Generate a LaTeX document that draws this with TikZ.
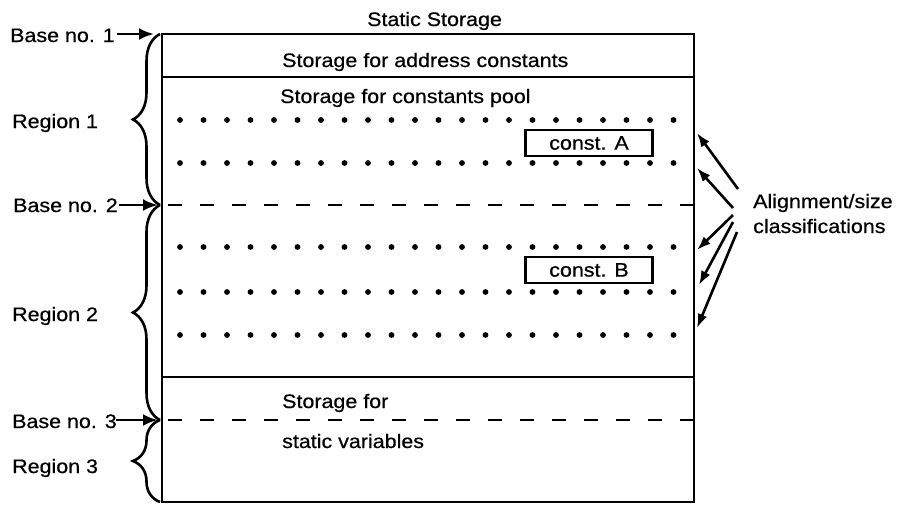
\documentclass[tikz,border=0pt]{standalone}
\usepackage{fontspec}
\setmainfont[FakeStretch=1.1,FakeBold=0.6]{Liberation Sans}
\usetikzlibrary{arrows.meta,decorations.pathreplacing}
\begin{document}
\begin{tikzpicture}[x=1pt,y=-1pt,
  lbl/.style={font=\fontsize{19.5}{22}\selectfont, inner sep=0pt, anchor=base west},
  frame/.style={line width=2.4pt},
  dashline/.style={line width=2.6pt, dash pattern=on 14pt off 18pt},
  bigarrow/.style={line width=2.8pt,-{Latex[length=15pt,width=12pt]}},
  smallarrow/.style={line width=2.6pt,-{Latex[length=14pt,width=10pt]}},
  brc/.style={line width=2.6pt, decorate, decoration={brace,amplitude=27pt}},
  constbox/.style={draw, line width=2.2pt, minimum width=127pt, minimum height=26pt, inner sep=0pt, font=\fontsize{19.5}{22}\selectfont, fill=white}]
\useasboundingbox (0,0) rectangle (903,504);

% main frame
\draw[frame] (162,34) rectangle (694,502);
\draw[frame] (162,77) -- (694,77);
\draw[frame] (162,377) -- (694,377);
\draw[dashline] (168,205) -- (694,205);
\draw[dashline] (168,420) -- (694,420);

% dots
\foreach \y in {120,163,247,292,335}
  \foreach \i in {0,...,21}
    \fill (180+23.5*\i,\y) circle (2.9pt);

% texts
\node[lbl] (title) at (367,26) {Static Storage};
\node[lbl] (addr) at (282,67) {Storage for address constants};
\node[lbl] (pool) at (280,103) {Storage for constants pool};
\node[lbl] (sf1) at (282,408) {Storage for};
\node[lbl] (sf2) at (282,448) {static variables};

\node[constbox] (ca) at (589,143) {const. A};
\node[constbox] (cb) at (589,270) {const. B};

% left labels
\node[lbl] (b1) at (10,42) {Base no. 1};
\node[lbl] (b2) at (13,212) {Base no. 2};
\node[lbl] (b3) at (12,428) {Base no. 3};
\node[lbl] (r1) at (12,128) {Region 1};
\node[lbl] (r2) at (12,321) {Region 2};
\node[lbl] (r3) at (12,473) {Region 3};

\coordinate (p1) at (160,34);
\coordinate (p2) at (160,205);
\coordinate (p3) at (160,420);
\coordinate (p4) at (160,502);

\coordinate (a1s) at (117,34);
\coordinate (a1e) at (154,34);
\coordinate (a2s) at (119,205);
\coordinate (a2e) at (158,205);
\coordinate (a3s) at (116,420);
\coordinate (a3e) at (158,420);
\draw[bigarrow] (a1s) -- (a1e);
\draw[bigarrow] (a2s) -- (a2e);
\draw[bigarrow] (a3s) -- (a3e);

\draw[brc] (p2) -- (p1);
\draw[brc] (p3) -- (p2);
\draw[brc] (p4) -- (p3);

% right labels
\node[lbl] (al1) at (753,208) {Alignment/size};
\node[lbl] (al2) at (753,233) {classifications};

\coordinate (t1) at (738,189);
\coordinate (t2) at (733,208);
\coordinate (t3) at (733,215);
\coordinate (t4) at (733,222);
\coordinate (t5) at (737,232);
\coordinate (h1) at (697,133);
\coordinate (h2) at (697,168);
\coordinate (h3) at (697,250);
\coordinate (h4) at (699,285);
\coordinate (h5) at (697,328);
\foreach \k in {1,...,5}
  \draw[smallarrow] (t\k) -- (h\k);
\end{tikzpicture}
\end{document}
